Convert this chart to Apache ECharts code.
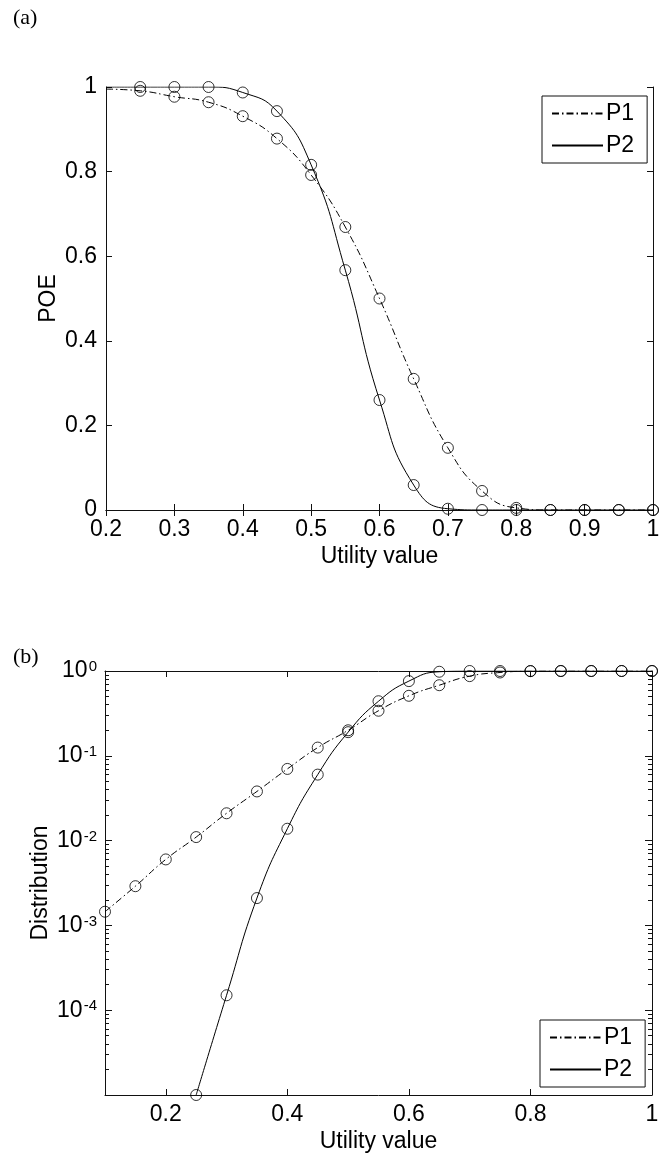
<!DOCTYPE html>
<html>
<head>
<meta charset="utf-8">
<script src="https://cdn.jsdelivr.net/npm/echarts@6/dist/echarts.min.js"></script>
<style>
html,body{margin:0;padding:0;background:#fff;}
#c{width:672px;height:1157px;}
</style>
</head>
<body>
<div id="c"></div>
<script>
// ---- Panel (a): POE vs utility value ----
const xTop = [0.2,0.25,0.3,0.35,0.4,0.45,0.5,0.55,0.6,0.65,0.7,0.75,0.8,0.85,0.9,0.95,1.0];
const p1Top = [0.995,0.991,0.977,0.964,0.931,0.878,0.792,0.669,0.5,0.31,0.147,0.045,0.005,0,0,0,0];
const p2Top = [1,1,1,1,0.987,0.943,0.816,0.567,0.26,0.059,0.003,0,0,0,0,0,0];
const xTicksTop = [0.2,0.3,0.4,0.5,0.6,0.7,0.8,0.9,1];
const yTicksTop = [0,0.2,0.4,0.6,0.8,1];

// ---- Panel (b): Distribution vs utility value (log) ----
const xBot = [0.1,0.15,0.2,0.25,0.3,0.35,0.4,0.45,0.5,0.55,0.6,0.65,0.7,0.75,0.8,0.85,0.9,0.95,1.0];
const p1Bot = [1.45e-3,2.9e-3,6e-3,1.1e-2,2.1e-2,3.8e-2,7e-2,0.125,0.2,0.34,0.51,0.68,0.87,0.96,0.995,1,1,1,1];
const p2Bot = [null,null,null,1e-5,1.5e-4,2.1e-3,1.38e-2,0.06,0.19,0.44,0.76,0.98,1,1,1,1,1,1,1];
const xTicksBot = [0.2,0.4,0.6,0.8,1];
const yTicksBot = [1e-5,1e-4,1e-3,1e-2,1e-1,1];
const seriesNames = ['P1','P2'];

const minorBot = [];
for (let k = -5; k < 0; k++) for (let m = 2; m <= 9; m++) minorBot.push(+(m * Math.pow(10, k)).toPrecision(3));

const FONT = '"Liberation Sans", Arial, Helvetica, sans-serif';
const INK = '#111';
const DASHDOT = [7, 3, 1.5, 3];
const FS = 23;

function pairs(xs, ys, from) {
  const out = [];
  for (let i = from; i < xs.length; i++) if (ys[i] !== null) out.push([xs[i], ys[i]]);
  return out;
}

const axisLine = { show: true, lineStyle: { color: INK, width: 1 } };
const tickIn = len => ({ show: true, inside: true, length: len, lineStyle: { color: INK, width: 1 } });
const lbl = { color: '#000', fontFamily: FONT, fontSize: FS };
const legendBase = {
  data: seriesNames, orient: 'vertical', itemWidth: 51, itemHeight: 14, itemGap: 9,
  padding: [6, 13, 6, 9], borderColor: INK, borderWidth: 1, backgroundColor: '#fff', selectedMode: false,
  itemStyle: { color: 'rgba(0,0,0,0)', borderColor: 'rgba(0,0,0,0)', borderWidth: 0 },
  textStyle: { fontFamily: FONT, fontSize: FS, color: '#000', padding: [0, 0, 0, -2] }
};

const chart = echarts.init(document.getElementById('c'), null, { renderer: 'canvas' });

const option = {
  backgroundColor: '#fff',
  animation: false,
  graphic: [
    { type: 'text', left: 13, top: 7, style: { text: '(a)', font: '22px "Liberation Serif", "Times New Roman", serif', fill: '#000' } },
    { type: 'text', left: 13, top: 646, style: { text: '(b)', font: '22px "Liberation Serif", "Times New Roman", serif', fill: '#000' } }
  ],
  grid: [
    { left: 106, top: 87, width: 547, height: 423 },
    { left: 105, top: 671, width: 547, height: 424 }
  ],
  legend: [
    Object.assign({ left: 542, top: 96 }, legendBase),
    Object.assign({ left: 540, top: 1020 }, legendBase)
  ],
  xAxis: [
    { gridIndex: 0, type: 'value', position: 'bottom', min: 0.2, max: 1, interval: 0.1,
      axisLine, axisTick: tickIn(6), splitLine: { show: false },
      axisLabel: Object.assign({ margin: 8, formatter: v => String(Math.round(v * 10) / 10) }, lbl),
      name: 'Utility value', nameLocation: 'middle', nameGap: 35,
      nameTextStyle: { fontFamily: FONT, fontSize: FS, color: '#000' } },
    { gridIndex: 0, type: 'value', position: 'top', min: 0.2, max: 1, interval: 0.1,
      axisLine, axisTick: tickIn(6), splitLine: { show: false }, axisLabel: { show: false } },
    { gridIndex: 1, type: 'value', position: 'bottom', min: 0.1, max: 1,
      axisLine, axisTick: Object.assign(tickIn(6), { customValues: xTicksBot }), splitLine: { show: false },
      axisLabel: Object.assign({ margin: 8, customValues: xTicksBot, formatter: v => String(Math.round(v * 10) / 10) }, lbl),
      name: 'Utility value', nameLocation: 'middle', nameGap: 35,
      nameTextStyle: { fontFamily: FONT, fontSize: FS, color: '#000' } },
    { gridIndex: 1, type: 'value', position: 'top', min: 0.1, max: 1,
      axisLine, axisTick: Object.assign(tickIn(6), { customValues: xTicksBot }), splitLine: { show: false },
      axisLabel: { show: false } }
  ],
  yAxis: [
    { gridIndex: 0, type: 'value', position: 'left', min: 0, max: 1, interval: 0.2,
      axisLine, axisTick: tickIn(6), splitLine: { show: false },
      axisLabel: Object.assign({ margin: 9, formatter: v => String(Math.round(v * 10) / 10) }, lbl),
      name: 'POE', nameLocation: 'middle', nameGap: 46, nameMoveOverlap: false,
      nameTextStyle: { fontFamily: FONT, fontSize: FS, color: '#000' } },
    { gridIndex: 0, type: 'value', position: 'right', min: 0, max: 1, interval: 0.2,
      axisLine, axisTick: tickIn(6), splitLine: { show: false }, axisLabel: { show: false } },
    { gridIndex: 1, type: 'log', logBase: 10, position: 'left', min: 1e-5, max: 1,
      axisLine, axisTick: Object.assign(tickIn(7), { customValues: yTicksBot }), splitLine: { show: false },
      axisLabel: {
        margin: 8, customValues: yTicksBot,
        formatter: v => { const e = Math.round(Math.log10(v)); return e === -5 ? '' : '{b|10}{s|' + e + '}'; },
        rich: {
          b: { fontFamily: FONT, fontSize: FS, color: '#000', lineHeight: 23 },
          s: { fontFamily: FONT, fontSize: 15, color: '#000', verticalAlign: 'top', lineHeight: 15, padding: [0, 0, 15, 1] }
        }
      },
      name: 'Distribution', nameLocation: 'middle', nameGap: 53, nameMoveOverlap: false,
      nameTextStyle: { fontFamily: FONT, fontSize: FS, color: '#000' } },
    { gridIndex: 1, type: 'log', logBase: 10, position: 'right', min: 1e-5, max: 1,
      axisLine, axisTick: Object.assign(tickIn(7), { customValues: yTicksBot }), splitLine: { show: false },
      axisLabel: { show: false } },
    { gridIndex: 1, type: 'log', logBase: 10, position: 'left', min: 1e-5, max: 1,
      axisLine: { show: false }, axisTick: Object.assign(tickIn(4), { customValues: minorBot }), splitLine: { show: false },
      axisLabel: { show: false } },
    { gridIndex: 1, type: 'log', logBase: 10, position: 'right', min: 1e-5, max: 1,
      axisLine: { show: false }, axisTick: Object.assign(tickIn(4), { customValues: minorBot }), splitLine: { show: false },
      axisLabel: { show: false } }
  ],
  series: [
    { name: 'P1', type: 'line', xAxisIndex: 0, yAxisIndex: 0, data: pairs(xTop, p1Top, 0), symbol: 'none',
      smooth: 0.5, lineStyle: { color: '#000', width: 1, type: DASHDOT }, itemStyle: { color: '#000' }, z: 3 },
    { name: 'P2', type: 'line', xAxisIndex: 0, yAxisIndex: 0, data: pairs(xTop, p2Top, 0), symbol: 'none',
      smooth: 0.5, lineStyle: { color: '#000', width: 1, type: 'solid' }, itemStyle: { color: '#000' }, z: 3 },
    { name: 'P1 marks', type: 'scatter', xAxisIndex: 0, yAxisIndex: 0, data: pairs(xTop, p1Top, 1), symbol: 'circle', symbolSize: 11,
      clip: false, itemStyle: { color: 'rgba(0,0,0,0)', borderColor: '#000', borderWidth: 1 }, z: 4 },
    { name: 'P2 marks', type: 'scatter', xAxisIndex: 0, yAxisIndex: 0, data: pairs(xTop, p2Top, 1), symbol: 'circle', symbolSize: 11,
      clip: false, itemStyle: { color: 'rgba(0,0,0,0)', borderColor: '#000', borderWidth: 1 }, z: 4 },

    { name: 'P1', type: 'line', xAxisIndex: 2, yAxisIndex: 2, data: pairs(xBot, p1Bot, 0), symbol: 'none',
      smooth: 0.5, lineStyle: { color: '#000', width: 1, type: DASHDOT }, itemStyle: { color: '#000' }, z: 3 },
    { name: 'P2', type: 'line', xAxisIndex: 2, yAxisIndex: 2, data: pairs(xBot, p2Bot, 0), symbol: 'none',
      smooth: 0.5, lineStyle: { color: '#000', width: 1, type: 'solid' }, itemStyle: { color: '#000' }, z: 3 },
    { name: 'P1 marks b', type: 'scatter', xAxisIndex: 2, yAxisIndex: 2, data: pairs(xBot, p1Bot, 0), symbol: 'circle', symbolSize: 11,
      clip: false, itemStyle: { color: 'rgba(0,0,0,0)', borderColor: '#000', borderWidth: 1 }, z: 4 },
    { name: 'P2 marks b', type: 'scatter', xAxisIndex: 2, yAxisIndex: 2, data: pairs(xBot, p2Bot, 0), symbol: 'circle', symbolSize: 11,
      clip: false, itemStyle: { color: 'rgba(0,0,0,0)', borderColor: '#000', borderWidth: 1 }, z: 4 }
  ]
};
chart.setOption(option);
</script>
</body>
</html>
